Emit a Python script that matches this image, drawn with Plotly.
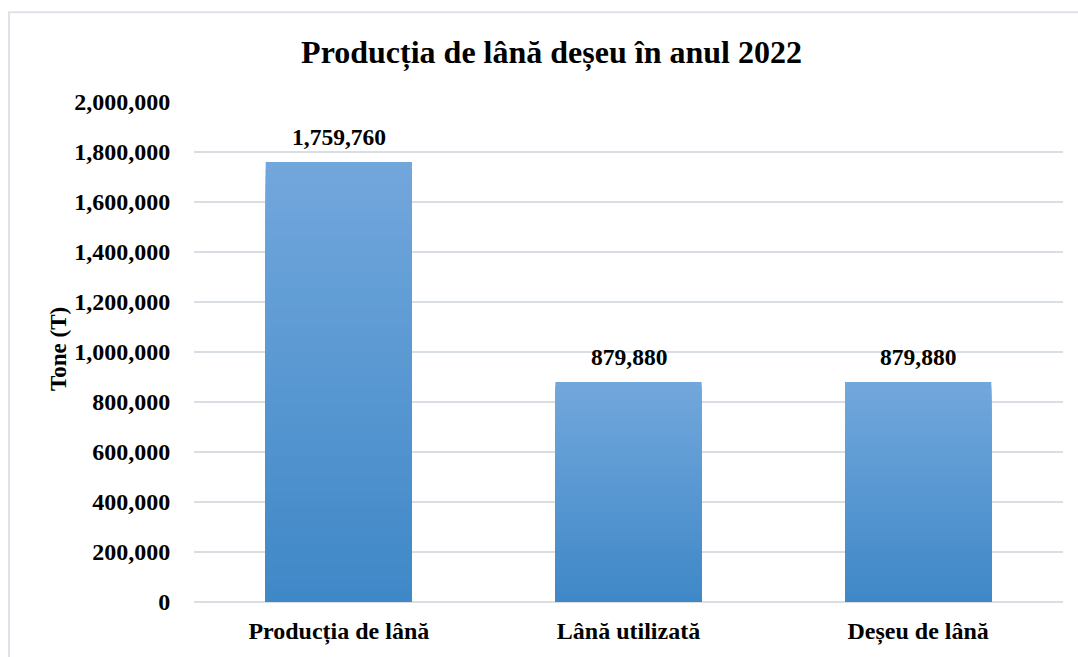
import plotly.graph_objects as go

# Chart data
categories = ["Producția de lână", "Lână utilizată", "Deșeu de lână"]
values = [1759760, 879880, 879880]
tick_values = [0, 200000, 400000, 600000, 800000, 1000000, 1200000, 1400000,
               1600000, 1800000, 2000000]
tick_labels = ["0", "200,000", "400,000", "600,000", "800,000", "1,000,000",
               "1,200,000", "1,400,000", "1,600,000", "1,800,000", "2,000,000"]

FONT = "Liberation Serif, Times New Roman, serif"
TOP_RGB = (114, 167, 220)
BOTTOM_RGB = (63, 136, 199)
STEPS = 60

fig = go.Figure()

# Vertical gradient on each bar: overlay progressively shorter, darker bars
for k in range(STEPS):
    t = k / (STEPS - 1)
    frac = 1 - k / STEPS
    r, g, b = (round(a + (c - a) * t) for a, c in zip(TOP_RGB, BOTTOM_RGB))
    fig.add_trace(go.Bar(
        x=categories,
        y=[v * frac for v in values],
        marker=dict(color=f"rgb({r},{g},{b})", line=dict(width=0)),
        width=0.505,
        hoverinfo="skip" if k else None,
        showlegend=False,
    ))

# Value labels above bars
for cat, v in zip(categories, values):
    fig.add_annotation(
        x=cat, y=v, text=f"<b>{v:,}</b>", showarrow=False,
        yanchor="middle", yshift=25,
        font=dict(family=FONT, size=23.5, color="#000000"),
    )

# Y-axis title
fig.add_annotation(
    xref="paper", yref="paper", x=-0.1565, y=0.506,
    xanchor="center", yanchor="middle",
    text="<b>Tone (T)</b>", textangle=-90, showarrow=False,
    font=dict(family=FONT, size=23, color="#000000"),
)

# Outer chart frame
fig.add_shape(
    type="rect", xref="paper", yref="paper",
    x0=-0.2129, y0=-0.3, x1=1.2, y1=1.1793,
    line=dict(color="#DDE2E8", width=2), fillcolor="rgba(0,0,0,0)",
    layer="below",
)

fig.update_layout(
    width=1078, height=657,
    barmode="overlay",
    paper_bgcolor="white", plot_bgcolor="white",
    margin=dict(l=194, r=15, t=102, b=53),
    title=dict(
        text="<b>Producția de lână deșeu în anul 2022</b>",
        x=0.5116, xanchor="center", y=0.921, yanchor="middle",
        font=dict(family=FONT, size=32, color="#000000"),
    ),
    xaxis=dict(
        showgrid=False, showline=False, zeroline=False,
        ticks="outside", ticklen=7, tickcolor="rgba(0,0,0,0)",
        tickfont=dict(family=FONT, size=24, color="#000000"),
    ),
    yaxis=dict(
        range=[0, 2000000],
        tickvals=tick_values, ticktext=[f"<b>{t}</b>" for t in tick_labels],
        showgrid=True, gridcolor="#D9DEE5", gridwidth=1.5,
        zeroline=True, zerolinecolor="#D9DEE5", zerolinewidth=1.5,
        showline=False,
        ticks="outside", ticklen=18, tickcolor="rgba(0,0,0,0)",
        tickfont=dict(family=FONT, size=24, color="#000000"),
    ),
    font=dict(family=FONT),
)
fig.update_xaxes(
    tickvals=categories, ticktext=[f"<b>{c}</b>" for c in categories],
)

fig.write_html("out.html")
